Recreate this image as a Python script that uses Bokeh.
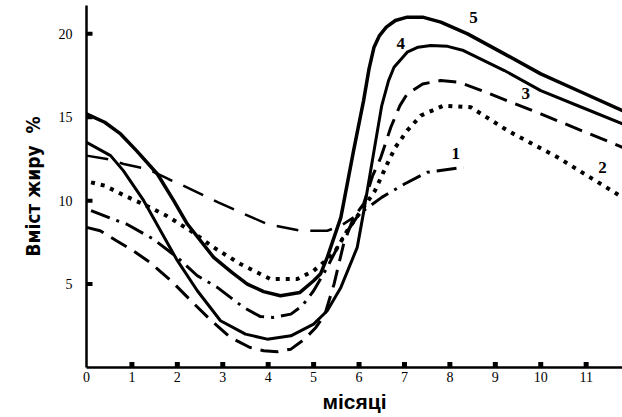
from bokeh.plotting import figure
from bokeh.models import Range1d, FixedTicker, ColumnDataSource
from bokeh.embed import file_html
from bokeh.resources import INLINE
from bokeh.core.properties import value

# ---- data ----
month_ticks = [0, 1, 2, 3, 4, 5, 6, 7, 8, 9, 10, 11]
fat_ticks = [5, 10, 15, 20]

c5_x = [0, 0.4, 0.75, 1.1, 1.56, 1.92, 2.22, 2.8, 3.2, 3.54, 3.9, 4.27, 4.7, 5.0, 5.15, 5.3, 5.6, 5.88, 6.1, 6.22, 6.33, 6.45, 6.6, 6.8, 7.06, 7.4, 7.8, 8.39, 9.2, 10.0, 10.9, 11.8]
c5_y = [15.2, 14.7, 14.0, 13.0, 11.6, 10.0, 8.6, 6.6, 5.7, 5.0, 4.55, 4.3, 4.5, 5.2, 5.6, 6.6, 9.0, 13.0, 16.0, 17.9, 19.2, 19.9, 20.4, 20.8, 21.0, 21.0, 20.7, 20.0, 18.8, 17.6, 16.5, 15.4]

c4_x = [0, 0.53, 0.81, 1.26, 1.98, 2.44, 2.95, 3.5, 3.98, 4.5, 5.0, 5.3, 5.6, 5.96, 6.1, 6.33, 6.5, 6.65, 6.77, 7.06, 7.3, 7.58, 7.95, 8.3, 9.2, 10.0, 10.9, 11.8]
c4_y = [13.5, 12.7, 11.8, 10.0, 6.5, 4.6, 2.8, 2.0, 1.7, 1.9, 2.6, 3.4, 4.8, 7.2, 9.3, 13.0, 15.7, 17.2, 18.0, 18.9, 19.2, 19.3, 19.25, 19.0, 17.8, 16.6, 15.6, 14.6]

c3_x = [0, 0.3, 0.66, 1.0, 1.4, 1.9, 2.3, 2.77, 3.17, 3.6, 3.9, 4.2, 4.5, 4.8, 5.05, 5.25, 5.45, 5.66, 5.88, 6.1, 6.3, 6.48, 6.7, 6.9, 7.06, 7.4, 7.8, 8.2, 8.7, 10.0, 11.8]
c3_y = [8.4, 8.2, 7.6, 7.05, 6.3, 5.1, 4.0, 2.75, 1.8, 1.2, 1.0, 0.95, 1.1, 1.7, 2.4, 3.2, 5.0, 7.4, 9.0, 9.8, 11.5, 12.6, 14.4, 15.7, 16.4, 17.0, 17.2, 17.1, 16.6, 15.2, 13.2]

c3a_x = [0, 0.45, 0.82, 1.34, 1.8, 2.13, 2.44, 2.9, 3.39, 3.98, 4.71, 5.3, 5.6, 5.88]
c3a_y = [12.7, 12.5, 12.2, 11.9, 11.3, 10.9, 10.5, 9.9, 9.3, 8.6, 8.2, 8.2, 8.5, 9.0]

c2_x = [0.1, 0.4, 0.84, 1.32, 1.76, 2.29, 2.8, 3.39, 4.05, 4.64, 5.0, 5.44, 5.74, 6.1, 6.35, 6.62, 6.8, 7.06, 7.36, 7.86, 8.46, 9.27, 10.37, 11.8]
c2_y = [11.1, 10.9, 10.3, 9.7, 9.1, 8.2, 7.2, 6.2, 5.3, 5.3, 5.8, 6.8, 8.2, 9.6, 10.6, 12.2, 13.2, 14.2, 15.1, 15.7, 15.6, 14.2, 12.6, 10.2]

c1_x = [0.1, 0.58, 0.88, 1.47, 2.0, 2.44, 2.88, 3.46, 3.83, 4.1, 4.5, 4.75, 5.0, 5.3, 5.6, 6.0, 6.5, 7.0, 7.5, 8.3]
c1_y = [9.4, 8.9, 8.6, 7.7, 6.6, 5.5, 4.8, 3.6, 3.05, 3.0, 3.2, 3.7, 4.6, 6.0, 7.6, 9.2, 10.2, 11.0, 11.7, 12.0]

curve_names = ["1", "2", "3", "4", "5"]
name_x = [8.13, 11.36, 9.67, 6.92, 8.52]
name_y = [12.8, 12.0, 16.4, 19.4, 21.0]

# ---- figure ----
p = figure(width=622, height=417, output_backend="svg", toolbar_location=None,
           x_range=Range1d(0, 11.8), y_range=Range1d(0, 21.7),
           min_border_left=86, min_border_right=0, min_border_top=5,
           min_border_bottom=50, background_fill_color="white",
           border_fill_color="white")
p.grid.visible = False
p.outline_line_color = None

for ax in (p.xaxis[0], p.yaxis[0]):
    ax.axis_line_width = 2.5
    ax.axis_line_color = "black"
    ax.major_tick_in = 0
    ax.major_tick_out = 0
    ax.minor_tick_line_color = None
    ax.major_label_text_font = "Liberation Serif"
    ax.major_label_text_font_size = "14px"
    ax.major_label_text_color = "black"

p.xaxis.ticker = FixedTicker(ticks=month_ticks)
p.yaxis.ticker = FixedTicker(ticks=fat_ticks)
p.xaxis.major_label_standoff = 4
p.yaxis.major_label_standoff = 14

p.xaxis.axis_label = "місяці"
p.xaxis.axis_label_text_font = "Liberation Sans"
p.xaxis.axis_label_text_font_style = "bold"
p.xaxis.axis_label_text_font_size = "21px"
p.xaxis.axis_label_text_color = "black"
p.xaxis.axis_label_standoff = 5

p.yaxis.axis_label = "Вміст жиру\u00a0\u00a0%"
p.yaxis.axis_label_text_font = "DejaVu Sans Condensed"
p.yaxis.axis_label_text_font_style = "bold"
p.yaxis.axis_label_text_font_size = "19px"
p.yaxis.axis_label_text_color = "black"
p.yaxis.axis_label_standoff = 12

# tick marks drawn inside the frame (lower / left half is clipped by the frame)
xt = month_ticks[1:]
p.rect(x=xt, y=[0] * len(xt), width=5, height=11, width_units="screen",
       height_units="screen", fill_color="black", line_color=None)
p.rect(x=[0] * len(fat_ticks), y=fat_ticks, width=12, height=4, width_units="screen",
       height_units="screen", fill_color="black", line_color=None)

p.line(c5_x, c5_y, line_color="black", line_width=3.5)
p.line(c4_x, c4_y, line_color="black", line_width=3)
p.line(c3_x, c3_y, line_color="black", line_width=3, line_dash="18 9")
p.line(c3a_x, c3a_y, line_color="black", line_width=2.5, line_dash="22 12")
p.line(c2_x, c2_y, line_color="black", line_width=4, line_dash="4 6")
p.line(c1_x, c1_y, line_color="black", line_width=3, line_dash="20 7 3 7")

src = ColumnDataSource(dict(x=name_x, y=name_y, t=curve_names))
p.text(x="x", y="y", text="t", source=src, text_font=value("Liberation Serif"),
       text_font_style="bold", text_font_size="17px", text_align="center",
       text_baseline="middle", text_color="black")

open("out.html", "w").write(file_html(p, INLINE))
